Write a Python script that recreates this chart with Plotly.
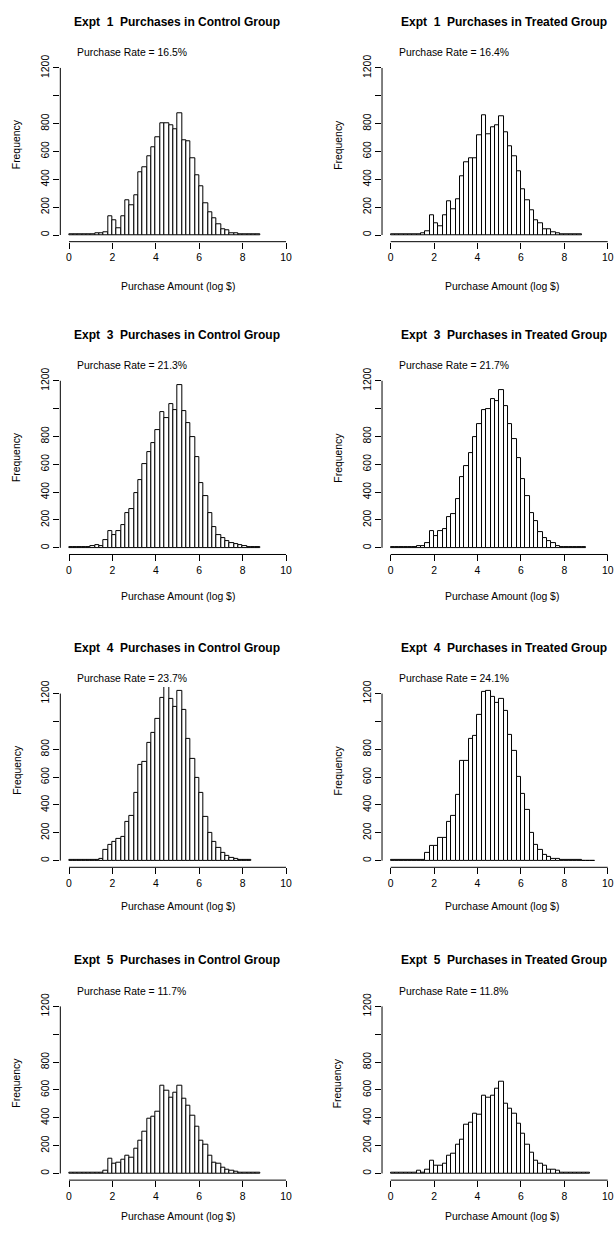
import plotly.graph_objects as go

# ---------------- data ----------------
experiments = [1, 3, 4, 5]
groups = ["Control", "Treated"]
purchase_rates = [[16.5, 16.4], [21.3, 21.7], [23.7, 24.1], [11.7, 11.8]]
bin_width = 0.2  # histogram bins start at 0

expt1_control = [5, 2, 4, 2, 2, 6, 14, 10, 20, 138, 109, 47, 138, 252, 216, 285, 452, 485, 568, 630,
                 704, 800, 800, 785, 759, 878, 678, 673, 554, 431, 347, 228, 166, 118, 80, 40, 35, 14,
                 10, 6, 3, 3, 3, 3]
expt1_treated = [5, 2, 3, 2, 3, 4, 6, 16, 30, 145, 86, 66, 140, 243, 183, 254, 421, 523, 554, 552,
                 714, 861, 726, 776, 785, 850, 735, 638, 564, 461, 331, 252, 176, 109, 83, 40, 43, 21,
                 12, 5, 3, 3, 2, 2]
expt3_control = [4, 3, 3, 3, 3, 10, 17, 10, 52, 119, 95, 117, 160, 248, 281, 393, 483, 600, 690, 755,
                 843, 976, 933, 1033, 990, 1167, 981, 893, 793, 650, 467, 369, 248, 148, 90, 69, 45,
                 33, 26, 17, 10, 5, 4, 3]
expt3_treated = [3, 2, 3, 3, 4, 5, 10, 10, 36, 117, 81, 117, 136, 219, 245, 350, 507, 588, 679, 793,
                 888, 988, 1000, 1067, 1057, 1133, 1021, 888, 783, 645, 493, 369, 252, 193, 112, 71,
                 45, 31, 14, 7, 4, 3, 3, 2, 2]
expt4_control = [3, 2, 2, 3, 4, 5, 7, 12, 74, 112, 136, 157, 167, 281, 319, 486, 688, 710, 845, 921,
                 1017, 1167, 1245, 1164, 1107, 1221, 1083, 871, 733, 595, 486, 312, 202, 138, 93, 55,
                 31, 17, 14, 6, 3, 2]
expt4_treated = [2, 2, 2, 2, 3, 4, 7, 7, 55, 107, 107, 162, 162, 279, 319, 471, 719, 719, 876, 893,
                 1050, 1212, 1221, 1174, 1131, 1160, 1074, 905, 786, 605, 476, 367, 198, 114, 79, 38,
                 24, 14, 10, 4, 3, 2, 2, 2, 1, 1, 1]
expt5_control = [3, 2, 3, 2, 3, 4, 5, 7, 21, 105, 67, 79, 98, 129, 112, 176, 238, 298, 395, 410,
                 440, 629, 595, 543, 583, 633, 536, 486, 414, 333, 233, 210, 129, 79, 67, 40, 24, 19,
                 10, 6, 3, 3, 2, 2]
expt5_treated = [3, 2, 2, 3, 4, 6, 17, 7, 24, 93, 55, 57, 71, 124, 145, 205, 245, 352, 367, 429,
                 421, 557, 543, 555, 607, 657, 502, 464, 429, 360, 286, 207, 152, 90, 67, 57, 29, 26,
                 19, 7, 4, 3, 3, 2, 2, 2]

counts = [[expt1_control, expt1_treated], [expt3_control, expt3_treated],
          [expt4_control, expt4_treated], [expt5_control, expt5_treated]]

x_tick_vals = [0, 2, 4, 6, 8, 10]
y_tick_vals = [0, 200, 400, 600, 800, 1000, 1200]
y_tick_text = ["0", "200", "400", "600", "800", "", "1200"]

# ---------------- layout geometry (pixels) ----------------
W, H = 615, 1234
PXU = 21.7            # px per x unit
CNT = 0.14            # px per count
ROW_STEP = 314.6
FONT = "Liberation Sans, Arial, Helvetica, sans-serif"
col_zero_px = [69.0, 390.7]
title_cx = [177.0, 503.5]
xlab_cx = [177.5, 502.0]
ylab_cx = [16.7, 338.3]

def px(xp):
    return xp / W

def py(yp):
    return 1 - yp / H

fig = go.Figure()
annotations = []
shapes = []
layout = {}

n = 0
for r in range(4):
    zero_y = 229.3 + ROW_STEP * r
    bottom = zero_y + 48 * CNT
    top = zero_y - 1248 * CNT
    for c in range(2):
        n += 1
        sfx = "" if n == 1 else str(n)
        x0px = col_zero_px[c] - 0.4 * PXU
        x1px = min(col_zero_px[c] + 10.4 * PXU, W)
        xr1 = (x1px - col_zero_px[c]) / PXU
        vals = counts[r][c]
        centers = [bin_width * (i + 0.5) for i in range(len(vals))]
        fig.add_trace(go.Bar(
            x=centers, y=vals, width=bin_width,
            marker=dict(color="white", line=dict(color="black", width=1)),
            xaxis="x" + sfx, yaxis="y" + sfx, showlegend=False, hoverinfo="x+y"))
        layout["xaxis" + sfx] = dict(
            domain=[px(x0px), px(x1px)], range=[-0.4, xr1], anchor="y" + sfx,
            tickmode="array", tickvals=x_tick_vals, ticks="outside", ticklen=6,
            tickwidth=1, tickcolor="black", showline=False, showgrid=False,
            zeroline=False, tickfont=dict(family=FONT, size=10.4, color="black"),
            fixedrange=True)
        layout["yaxis" + sfx] = dict(
            domain=[py(bottom), py(top)], range=[-48, 1248], anchor="x" + sfx,
            tickmode="array", tickvals=y_tick_vals, ticktext=y_tick_text,
            tickangle=-90, ticks="outside", ticklen=6, tickwidth=1, tickcolor="black",
            showline=False, showgrid=False, zeroline=False,
            tickfont=dict(family=FONT, size=10.4, color="black"), fixedrange=True)
        # R-style axis lines
        shapes.append(dict(type="line", xref="x" + sfx, yref="y" + sfx + " domain",
                           x0=0, x1=10, y0=0, y1=0, line=dict(color="black", width=1)))
        shapes.append(dict(type="line", xref="x" + sfx + " domain", yref="y" + sfx,
                           x0=0, x1=0, y0=0, y1=1200, line=dict(color="black", width=1)))
        # texts
        annotations.append(dict(
            text="<b>Expt  %d  Purchases in %s Group</b>" % (experiments[r], groups[c]),
            x=px(title_cx[c]), y=py(15 + ROW_STEP * r), xref="paper", yref="paper",
            xanchor="center", yanchor="middle", showarrow=False,
            font=dict(family=FONT, size=12, color="black")))
        annotations.append(dict(
            text="Purchase Rate = %.1f%%" % purchase_rates[r][c],
            x=px(col_zero_px[c] + 6.0), y=py(46 + ROW_STEP * r), xref="paper", yref="paper",
            xanchor="left", yanchor="middle", showarrow=False,
            font=dict(family=FONT, size=10.4, color="black")))
        annotations.append(dict(
            text="Purchase Amount (log $)",
            x=px(xlab_cx[c]), y=py(281 + 311.9 * r), xref="paper", yref="paper",
            xanchor="center", yanchor="middle", showarrow=False,
            font=dict(family=FONT, size=10.4, color="black")))
        annotations.append(dict(
            text="Frequency", textangle=-90,
            x=px(ylab_cx[c]), y=py(138.3 + ROW_STEP * r), xref="paper", yref="paper",
            xanchor="center", yanchor="middle", showarrow=False,
            font=dict(family=FONT, size=10.4, color="black")))

fig.update_layout(
    width=W, height=H, margin=dict(l=0, r=0, t=0, b=0),
    paper_bgcolor="white", plot_bgcolor="white",
    annotations=annotations, shapes=shapes, bargap=0,
    font=dict(family=FONT, size=10.4, color="black"),
    **layout)

fig.write_html("out.html", config={"displayModeBar": False},
               post_script="document.body.style.margin='0';document.body.style.overflow='hidden';")
